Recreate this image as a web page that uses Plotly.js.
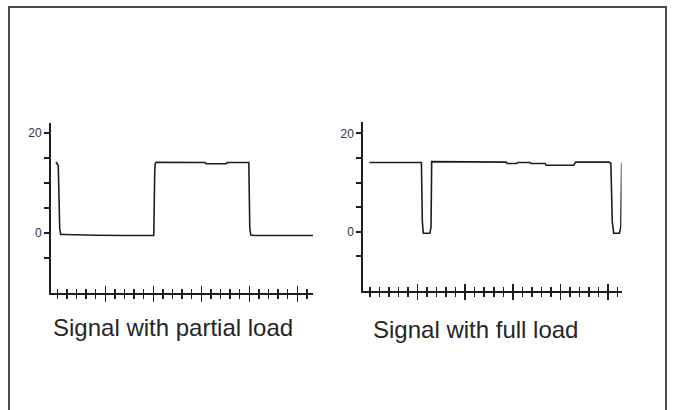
<!DOCTYPE html>
<html>
<head>
<meta charset="utf-8">
<script src="https://cdn.plot.ly/plotly-3.0.1.min.js"></script>
<style>html,body{margin:0;padding:0;background:#fff;}#chart{width:674px;height:410px;}</style>
</head>
<body>
<div id="chart"></div>
<script>
// Partial load signal (x in tick units, y in signal units)
var partialX = [-0.14, 0.1, 0.25, 0.35, 0.8, 1.5, 2.5, 4, 7, 10.05, 10.15, 10.2, 10.3, 12, 15.4, 15.5, 17.6, 17.7, 19.95, 20.05, 20.15, 20.5, 23, 26.65];
var partialY = [14.2, 13.5, 1.0, -0.3, -0.3, -0.35, -0.45, -0.45, -0.5, -0.5, 12.5, 13.9, 14.15, 14.15, 14.1, 13.85, 13.85, 14.1, 14.1, 1.0, -0.4, -0.5, -0.5, -0.5];

// Full load signal
var fullX = [-0.07, 5.4, 5.5, 5.6, 6.3, 6.41, 6.48, 10, 14.3, 14.4, 15.4, 15.5, 16.8, 16.9, 18.4, 18.5, 21.4, 21.6, 25.1, 25.3, 25.45, 25.6, 26.2, 26.35, 26.44];
var fullY = [14.05, 14.05, 2.0, -0.3, -0.3, 1.0, 14.25, 14.2, 14.15, 13.85, 13.85, 14.05, 14.05, 13.85, 13.85, 13.5, 13.5, 14.15, 14.15, 13.9, 2.0, -0.3, -0.3, 1.0, 14.05];

var yTickVals = [-5, 0, 5, 10, 15, 20];
var yTickText = ['', '0', '', '', '', '20'];
var xMajorTicks = [5, 10, 15, 20, 25];

var captionLeft = 'Signal with partial load';
var captionRight = 'Signal with full load';

var ink = '#1e1e1e';

function xAxisBase(domain, range, anchor, side) {
  return {
    domain: domain, range: range, anchor: anchor,
    showgrid: false, zeroline: false, showticklabels: false,
    tickmode: 'array', tickvals: xMajorTicks,
    ticks: side, ticklen: 7, tickwidth: 1.5, tickcolor: ink,
    minor: {tick0: 0, dtick: 1, ticks: side, ticklen: 4, tickwidth: 1.5, tickcolor: ink},
    fixedrange: true
  };
}
function yAxisBase(domain, range, anchor) {
  return {
    domain: domain, range: range, anchor: anchor,
    showgrid: false, zeroline: false, showline: true, linewidth: 2, linecolor: ink,
    tickmode: 'array', tickvals: yTickVals, ticktext: yTickText,
    ticks: 'outside', ticklen: 5, tickwidth: 2, tickcolor: ink,
    tickfont: {family: 'Liberation Sans, Arial, sans-serif', size: 12, color: '#333'},
    fixedrange: true
  };
}

var W = 674, H = 410;
var leftDomX = [51 / W, 313 / W];
var leftDomY = [1 - 293 / H, 1 - 123 / H];
var rightDomX = [363.3 / W, 621.5 / W];
var rightDomY = [1 - 291 / H, 1 - 121.7 / H];
var leftRangeX = [(51 - 57.3) / 9.6, (313 - 57.3) / 9.6];
var rightRangeX = [(363.3 - 370) / 9.52, (621.5 - 370) / 9.52];
var leftRangeY = [-12, 22];
var rightRangeY = [(231.7 - 291) / 4.92, (231.7 - 121.7) / 4.92];

var traces = [
  {x: partialX, y: partialY, xaxis: 'x', yaxis: 'y', mode: 'lines', line: {color: ink, width: 1.6}, hoverinfo: 'skip', showlegend: false},
  {x: fullX, y: fullY, xaxis: 'x2', yaxis: 'y2', mode: 'lines', line: {color: ink, width: 1.6}, hoverinfo: 'skip', showlegend: false},
  {x: [], y: [], xaxis: 'x3', yaxis: 'y', mode: 'lines', hoverinfo: 'skip', showlegend: false},
  {x: [], y: [], xaxis: 'x4', yaxis: 'y2', mode: 'lines', hoverinfo: 'skip', showlegend: false}
];

var xa = xAxisBase(leftDomX, leftRangeX, 'y', 'outside');
xa.showline = true; xa.linewidth = 2; xa.linecolor = ink;
var xa2 = xAxisBase(rightDomX, rightRangeX, 'y2', 'outside');
xa2.showline = true; xa2.linewidth = 2; xa2.linecolor = ink;
var xa3 = xAxisBase(leftDomX, leftRangeX, 'y', 'inside');
xa3.overlaying = 'x'; xa3.showline = false;
var xa4 = xAxisBase(rightDomX, rightRangeX, 'y2', 'inside');
xa4.overlaying = 'x2'; xa4.showline = false;

var capFont = {family: 'Liberation Sans, Arial, sans-serif', size: 24, color: '#262626'};

var layout = {
  width: W, height: H,
  margin: {l: 0, r: 0, t: 0, b: 0},
  paper_bgcolor: '#fff', plot_bgcolor: 'rgba(0,0,0,0)',
  showlegend: false,
  xaxis: xa, xaxis2: xa2, xaxis3: xa3, xaxis4: xa4,
  yaxis: yAxisBase(leftDomY, leftRangeY, 'x'),
  yaxis2: yAxisBase(rightDomY, rightRangeY, 'x2'),
  annotations: [
    {text: captionLeft, xref: 'paper', yref: 'paper', x: 51 / W, y: 1 - 327.7 / H, xanchor: 'left', yanchor: 'middle', showarrow: false, font: capFont},
    {text: captionRight, xref: 'paper', yref: 'paper', x: 370.5 / W, y: 1 - 329.7 / H, xanchor: 'left', yanchor: 'middle', showarrow: false, font: capFont}
  ],
  shapes: [
    {type: 'rect', xref: 'paper', yref: 'paper', x0: 9 / W, x1: 666 / W, y0: -0.1, y1: 1 - 7 / H, line: {color: '#4a4a4a', width: 2}, fillcolor: 'rgba(0,0,0,0)', layer: 'below'}
  ]
};

Plotly.newPlot('chart', traces, layout, {staticPlot: true, displayModeBar: false});
</script>
</body>
</html>
